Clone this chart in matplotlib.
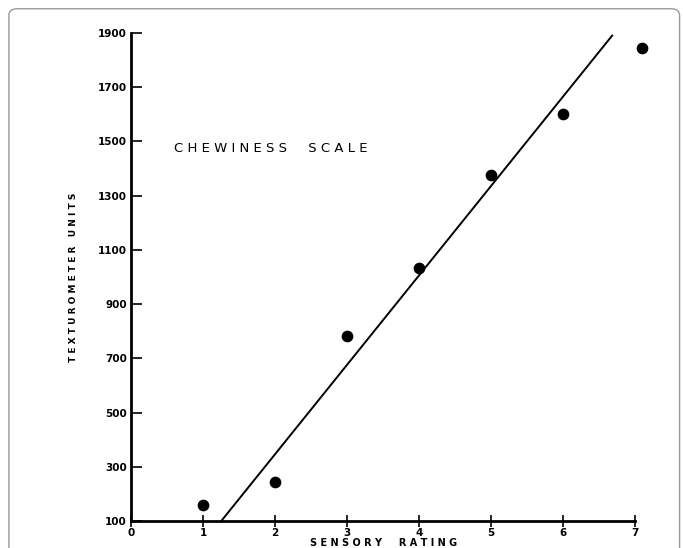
import numpy as np
import matplotlib
matplotlib.use("Agg")
import matplotlib.pyplot as plt
from matplotlib.patches import FancyBboxPatch

# sensory rating vs texturometer units
rating = [1, 2, 3, 4, 5, 6, 7.1]
units = [160, 244, 783, 1034, 1377, 1602, 1845]

# fitted line end points
line_x = [1.25, 6.68]
line_y = [100, 1890]

yticks = [100, 300, 500, 700, 900, 1100, 1300, 1500, 1700, 1900]
xticks = [0, 1, 2, 3, 4, 5, 6, 7]


def spaced(s, gap=3):
    # the scan uses wide letter spacing
    return " ".join(s).replace("   ", " " * gap)


fig = plt.figure(figsize=(6.83, 5.48), dpi=100)

# grey rounded frame round the picture
frame = FancyBboxPatch((0.013, -0.05), 0.982, 1.034, boxstyle="round,pad=0,rounding_size=0.012",
                       transform=fig.transFigure, fill=False, edgecolor="#9a9a9a", linewidth=1.0)
fig.patches.append(frame)

ax = fig.add_axes([0.192, 0.049, 0.738, 0.891])
ax.set_xlim(0, 7)
ax.set_ylim(100, 1900)

ax.plot(line_x, line_y, color="black", linewidth=1.4)
ax.scatter(rating, units, s=55, color="black", zorder=3, clip_on=False)

for s in ["top", "right"]:
    ax.spines[s].set_visible(False)
for s in ["left", "bottom"]:
    ax.spines[s].set_linewidth(2.0)

ax.set_xticks(xticks)
ax.set_yticks(yticks)
ax.set_xticklabels([str(t) for t in xticks], fontsize=7.5, fontweight="bold")
ax.set_yticklabels([str(t) for t in yticks], fontsize=7.5, fontweight="bold")
ax.tick_params(axis="x", direction="inout", length=8, width=1.2, pad=1)
ax.tick_params(axis="y", direction="in", length=8, width=1.2, pad=3)

ax.set_xlabel(spaced("SENSORY RATING", 5), fontsize=7, fontweight="bold", labelpad=0)
ax.set_ylabel(spaced("TEXTUROMETER UNITS", 3), fontsize=6.5, fontweight="bold", labelpad=14)

ax.text(0.6, 1475, spaced("CHEWINESS SCALE", 5), fontsize=9.5, va="center", ha="left")

fig.savefig("out.png", dpi=100)
